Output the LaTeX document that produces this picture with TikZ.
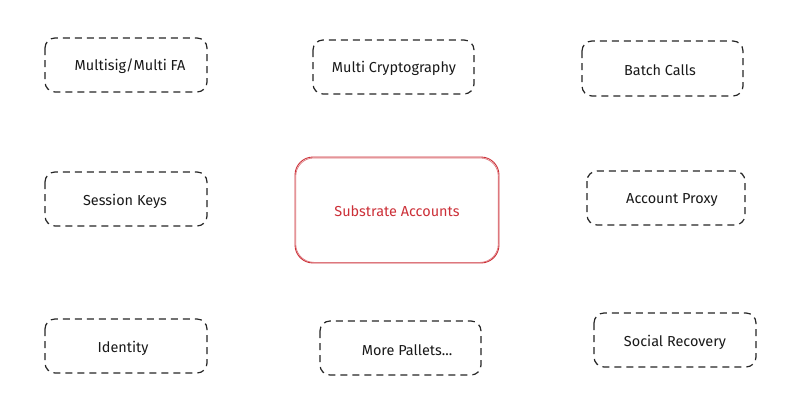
\documentclass[tikz,border=0pt]{standalone}
\usepackage{fontspec}
\setmainfont{Fira Sans}
\begin{document}
\begin{tikzpicture}[x=1bp,y=-1bp,
  feature/.style={draw=black!85, line width=1.2bp, dash pattern=on 7bp off 5bp, rounded corners=10bp},
  core/.style={draw=accred, line width=0.9bp, rounded corners=18bp},
  lbl/.style={font=\fontsize{14.5}{17}\selectfont, text=black!90}]
\definecolor{accred}{HTML}{CC3038}
\useasboundingbox (0,0) rectangle (805,409);
\fill[white] (0,0) rectangle (805,409);
% feature boxes
\draw[feature] (45,38) rectangle (207,92);
\node[lbl] (msig) at (130,66) {Multisig/Multi FA};
\draw[feature] (313,40) rectangle (474,94);
\node[lbl] (mcrypt) at (394,68) {Multi Cryptography};
\draw[feature] (582,41) rectangle (743,96);
\node[lbl] (batch) at (660,70) {Batch Calls};
\draw[feature] (45,172) rectangle (207,226);
\node[lbl] (sess) at (125,201) {Session Keys};
\draw[feature] (587,171) rectangle (745,225);
\node[lbl] (proxy) at (672,200) {Account Proxy};
\draw[feature] (45,319) rectangle (207,373);
\node[lbl] (ident) at (123,348) {Identity};
\draw[feature] (320,321) rectangle (481,375);
\node[lbl] (more) at (407,350) {More Pallets...};
\draw[feature] (594,313) rectangle (756,367);
\node[lbl] (social) at (675,342) {Social Recovery};
% central box (sketchy double line)
\draw[core] (295,157) rectangle (499,263);
\draw[core, line width=0.6bp, draw opacity=0.7] (295.8,158) rectangle (498.2,262.3);
\node[lbl, text=accred] (core) at (397,211) {Substrate Accounts};
\end{tikzpicture}
\end{document}
